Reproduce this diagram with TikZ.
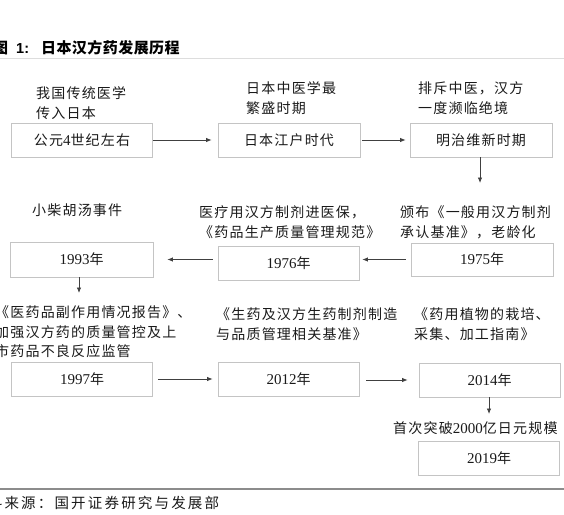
\documentclass[tikz,border=0pt]{standalone}
\usepackage{fontspec}
\setmainfont{Liberation Serif}
\newfontfamily\cjk[LetterSpace=8.5]{Noto Sans CJK SC}
\newfontfamily\cjkt[LetterSpace=3]{Noto Sans CJK SC}
\newfontfamily\cjkf[LetterSpace=15]{Noto Sans CJK SC}
\newfontfamily\lsans{Liberation Sans}
\newcommand\dg[1]{{\rmfamily\fontsize{15}{19.5}\selectfont #1}}
\usetikzlibrary{arrows.meta}
\definecolor{txt}{HTML}{1A1A1A}
\definecolor{boxgray}{HTML}{C4C4C4}
\definecolor{arrgray}{HTML}{404040}
\definecolor{rulegray}{HTML}{8C8C8C}
\definecolor{lightrule}{HTML}{DDDDDD}
\begin{document}
\begin{tikzpicture}[x=1pt,y=-1pt,
  box/.style={draw=boxgray, line width=0.8pt, minimum width=141pt, minimum height=34pt, inner sep=0pt,
    font=\cjk\fontsize{14}{19.5}\selectfont, text=txt},
  lbl/.style={anchor=north west, inner sep=0pt, align=left,
    font=\cjk\fontsize{14}{19.5}\selectfont, text=txt},
  arr/.style={draw=arrgray, line width=0.8pt, -{Latex[length=5.5pt,width=4.5pt]}},
]
\useasboundingbox (0,0) rectangle (564,514);
% title
\node[anchor=west, inner sep=0pt, text=black, font=\cjkt\bfseries\fontsize{15}{17}\selectfont] (title) at (-7,48)
  {图\hspace{8pt}{\lsans\bfseries\fontsize{14.5}{17}\selectfont 1:}\hspace{12pt}日本汉方药发展历程};
\draw[lightrule, line width=0.6pt] (0,58) -- (564,58);

% row 1
\node[box] (A) at (82,140) {公元\dg{4}世纪左右};
\node[box, minimum width=142pt] (B) at (289,140) {日本江户时代};
\node[box, minimum width=142pt] (C) at (481,140) {明治维新时期};
\node[lbl] (lA) at (36,86.7) {我国传统医学\\传入日本};
\node[lbl] (lB) at (246,81.7) {日本中医学最\\繁盛时期};
\node[lbl] (lC) at (418,81.7) {排斥中医，汉方\\一度濒临绝境};

% row 2
\node[box, minimum width=142pt, minimum height=33pt] (D) at (482,259.5) {\dg{1975}年};
\node[box] (E) at (288.5,263.5) {\dg{1976}年};
\node[box, minimum width=143pt, minimum height=35pt] (F) at (81.5,259.5) {\dg{1993}年};
\node[lbl] (lF) at (32,203.7) {小柴胡汤事件};
\node[lbl] (lE) at (199,205.7) {医疗用汉方制剂进医保，\\《药品生产质量管理规范》};
\node[lbl] (lD) at (400,205.7) {颁布《一般用汉方制剂\\承认基准》，老龄化};

% row 3
\node[box] (G) at (82,379) {\dg{1997}年};
\node[box] (H) at (288.5,379) {\dg{2012}年};
\node[box] (I) at (489.5,380) {\dg{2014}年};
\node[box] (J) at (489,458.5) {\dg{2019}年};
\node[lbl] (lG) at (-5,305.7) {《医药品副作用情况报告》、\\加强汉方药的质量管控及上\\市药品不良反应监管};
\node[lbl] (lH) at (216,307.7) {《生药及汉方生药制剂制造\\与品质管理相关基准》};
\node[lbl] (lI) at (414,307.7) {《药用植物的栽培、\\采集、加工指南》};
\node[lbl] (lJ) at (393,421.7) {首次突破\dg{2000}亿日元规模};

% connectors
\coordinate (c1) at (480,183);
\coordinate (f1) at (79,293);
\coordinate (i1) at (489,414);
\draw[arr, shorten >=6pt] (A.east) -- (B.west);
\draw[arr, shorten <=2pt, shorten >=4pt] (B.east) -- (C.west);
\draw[arr] (C.south -| c1) -- (c1);
\draw[arr, shorten <=5pt, shorten >=3pt] (D.west) -- (E.east |- D.west);
\draw[arr, shorten <=5pt, shorten >=14pt] (E.west |- F.east) -- (F.east);
\draw[arr] (F.south -| f1) -- (f1);
\draw[arr, shorten <=5pt, shorten >=5pt] (G.east) -- (H.west |- G.east);
\draw[arr, shorten <=7pt, shorten >=11pt] (H.east |- I.west) -- (I.west);
\draw[arr] (I.south -| i1) -- (i1);

% footer
\draw[rulegray, line width=1.4pt] (0,489) -- (564,489);
\node[anchor=west, inner sep=0pt, text=txt, font=\cjkf\fontsize{14.5}{16}\selectfont] (src) at (-29,503)
  {资料来源：国开证券研究与发展部};
\end{tikzpicture}
\end{document}
